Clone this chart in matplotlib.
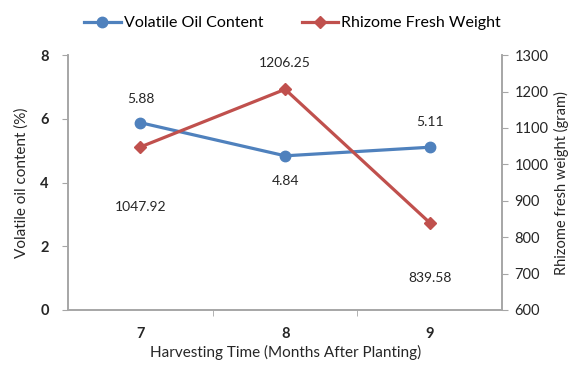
import matplotlib.pyplot as plt

plt.rcParams['font.family'] = ['Lato', 'DejaVu Sans']

months = ['7', '8', '9']
oil_content = [5.88, 4.84, 5.11]
fresh_weight = [1047.92, 1206.25, 839.58]
oil_ticks = [0, 2, 4, 6, 8]
weight_ticks = [600, 700, 800, 900, 1000, 1100, 1200, 1300]

blue = '#4F81BD'
red = '#C0504D'
grey = '#A6A6A6'
txt = '#262626'

fig = plt.figure(figsize=(5.68, 3.78), dpi=100)
ax = fig.add_axes([0.12, 0.18, 0.764, 0.674])
ax2 = ax.twinx()

x = list(range(len(months)))
l1, = ax.plot(x, oil_content, color=blue, lw=2.3, marker='o', ms=7.5,
              label='Volatile Oil Content', zorder=3)
l2, = ax2.plot(x, fresh_weight, color=red, lw=2.3, marker='D', ms=6,
               label='Rhizome Fresh Weight', zorder=3)

# value labels: above/below depending on the point
oil_off = [17, -18, 18]
for xi, v, off in zip(x, oil_content, oil_off):
    ax.annotate(f'{v:.2f}', (xi, v), xytext=(0, off), textcoords='offset points',
                ha='center', va='center', fontsize=10, color=txt)
wt_off = [-43, 19, -40]
for xi, v, off in zip(x, fresh_weight, wt_off):
    ax2.annotate(f'{v:.2f}', (xi, v), xytext=(0, off), textcoords='offset points',
                 ha='center', va='center', fontsize=10, color=txt)

ax.set_xlim(-0.5, 2.5)
ax.set_ylim(0, 8)
ax2.set_ylim(600, 1300)
ax.set_yticks(oil_ticks)
ax2.set_yticks(weight_ticks)

ax.set_xticks(x)
ax.set_xticklabels(months, fontweight='bold', fontsize=10.5, color=txt)
ax.set_xticks([0.5, 1.5], minor=True)
ax.tick_params(axis='x', which='major', length=0, pad=12)
ax.tick_params(axis='x', which='minor', length=4, color=grey, direction='out')
ax.tick_params(axis='y', length=4, color=grey, labelsize=10.5, labelcolor=txt, pad=10)
ax2.tick_params(axis='y', length=4, color=grey, labelsize=10.5, labelcolor=txt, pad=5)
for lab in ax.get_yticklabels():
    lab.set_fontweight('bold')

for a in (ax, ax2):
    a.spines['top'].set_visible(False)
    for s in ('left', 'right', 'bottom'):
        a.spines[s].set_color(grey)
        a.spines[s].set_linewidth(1.2)

ax.set_xlabel('Harvesting Time (Months After Planting)', fontsize=11, color=txt, labelpad=3)
ax.set_ylabel('Volatile oil content (%)', fontsize=11, color=txt, labelpad=8)
ax2.set_ylabel('Rhizome fresh weight (gram)', fontsize=10.5, color=txt, labelpad=4)

fig.legend([l1, l2], [l1.get_label(), l2.get_label()], loc='upper center',
           bbox_to_anchor=(0.515, 0.995), ncol=2, frameon=False, fontsize=11.5,
           handlelength=2.3, handletextpad=0.2, columnspacing=2.4)

fig.savefig('out.png', dpi=100)
